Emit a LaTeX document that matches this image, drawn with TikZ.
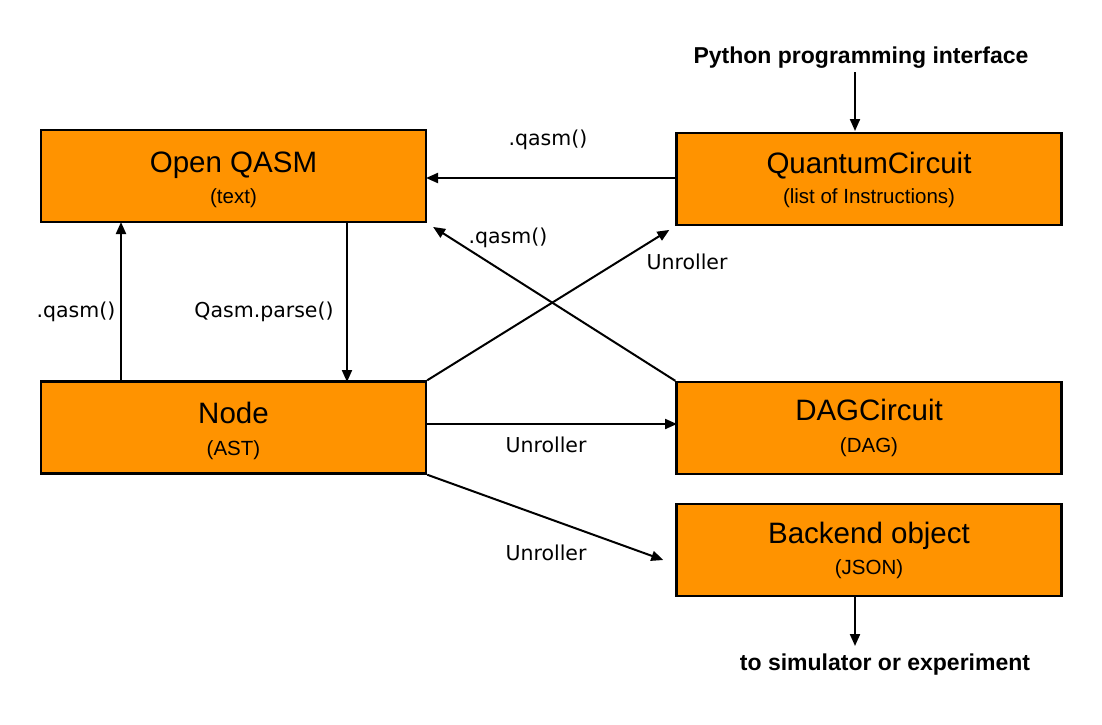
\documentclass[tikz,border=0pt]{standalone}
\usepackage{fontspec}
\setmainfont{Liberation Sans}
\newfontfamily\lblfont{DejaVu Sans}
\usetikzlibrary{arrows.meta,calc}
\definecolor{boxorange}{RGB}{255,147,0}
\begin{document}
\begin{tikzpicture}[x=1pt,y=-1pt,
  box/.style={draw=black,line width=2.4pt,fill=boxorange,minimum width=385pt,minimum height=92pt,inner sep=0pt},
  ttl/.style={anchor=base,font=\fontsize{29.5}{32}\selectfont,inner sep=0pt},
  sub/.style={anchor=base,font=\fontsize{20.5}{23}\selectfont,inner sep=0pt},
  lbl/.style={font=\lblfont\fontsize{20.5}{24}\selectfont,inner sep=0pt},
  bold/.style={font=\fontsize{23}{26}\selectfont\bfseries,inner sep=0pt},
  conn/.style={line width=2pt,-{Triangle[length=12pt,width=10pt]}}]
\useasboundingbox (0,0) rectangle (1102,724);
\fill[white] (0,0) rectangle (1102,724);
% boxes
\node[box] (oq) at (233.5,176) {};
\node[box] (qc) at (869,179) {};
\node[box] (nd) at (233.5,427.5) {};
\node[box] (dag) at (869,428) {};
\node[box] (be) at (869,550) {};
% box texts
\node[ttl] (oqt) at ($(oq.north)+(0,44)$) {Open QASM};
\node[sub] (oqs) at ($(oq.north)+(0,75)$) {(text)};
\node[ttl] (qct) at ($(qc.north)+(0,42)$) {QuantumCircuit};
\node[sub] (qcs) at ($(qc.north)+(0,72)$) {(list of Instructions)};
\node[ttl] (ndt) at ($(nd.north)+(0,43)$) {Node};
\node[sub] (nds) at ($(nd.north)+(0,75)$) {(AST)};
\node[ttl] (dagt) at ($(dag.north)+(0,40)$) {DAGCircuit};
\node[sub] (dags) at ($(dag.north)+(0,72)$) {(DAG)};
\node[ttl] (bet) at ($(be.north)+(0,41)$) {Backend object};
\node[sub] (bes) at ($(be.north)+(0,72)$) {(JSON)};
% outer texts
\node[bold] (py) at (861,58) {Python programming interface};
\node[bold] (sim) at (885,665) {to simulator or experiment};
% connector labels
\node[lbl] (l1) at (548,140) {.qasm()};
\node[lbl] (l2) at (508,238) {.qasm()};
\node[lbl] (l3) at (687,262) {Unroller};
\node[lbl] (l4) at (546,445) {Unroller};
\node[lbl] (l5) at (546,553) {Unroller};
\node[lbl] (l6) at (76,312) {.qasm()};
\node[lbl] (l7) at (264,312) {Qasm.parse()};
% coordinates
\coordinate (pyA) at (855,72);
\coordinate (pyB) at (855,131);
\coordinate (beA) at (855,596);
\coordinate (beB) at (855,646);
\coordinate (oqR) at (426,178);
\coordinate (qcL) at (677,178);
\coordinate (oqD) at (347,222);
\coordinate (ndU) at (347,382);
\coordinate (ndU2) at (121,382);
\coordinate (oqD2) at (121,222);
\coordinate (ndR) at (426,424);
\coordinate (dagL) at (677,424);
% connectors
\draw[conn] (pyA) -- (pyB);
\draw[conn] (beA) -- (beB);
\draw[conn] (qcL) -- (oqR);
\draw[conn] (oqD) -- (ndU);
\draw[conn] (ndU2) -- (oqD2);
\draw[conn,shorten >=7pt] (dag.north west) -- (oq.south east);
\draw[conn,shorten >=7pt] (nd.north east) -- (qc.south west);
\draw[conn] (ndR) -- (dagL);
\draw[conn] (nd.south east) -- ($(be.west)+(-12,10)$);
\end{tikzpicture}
\end{document}
